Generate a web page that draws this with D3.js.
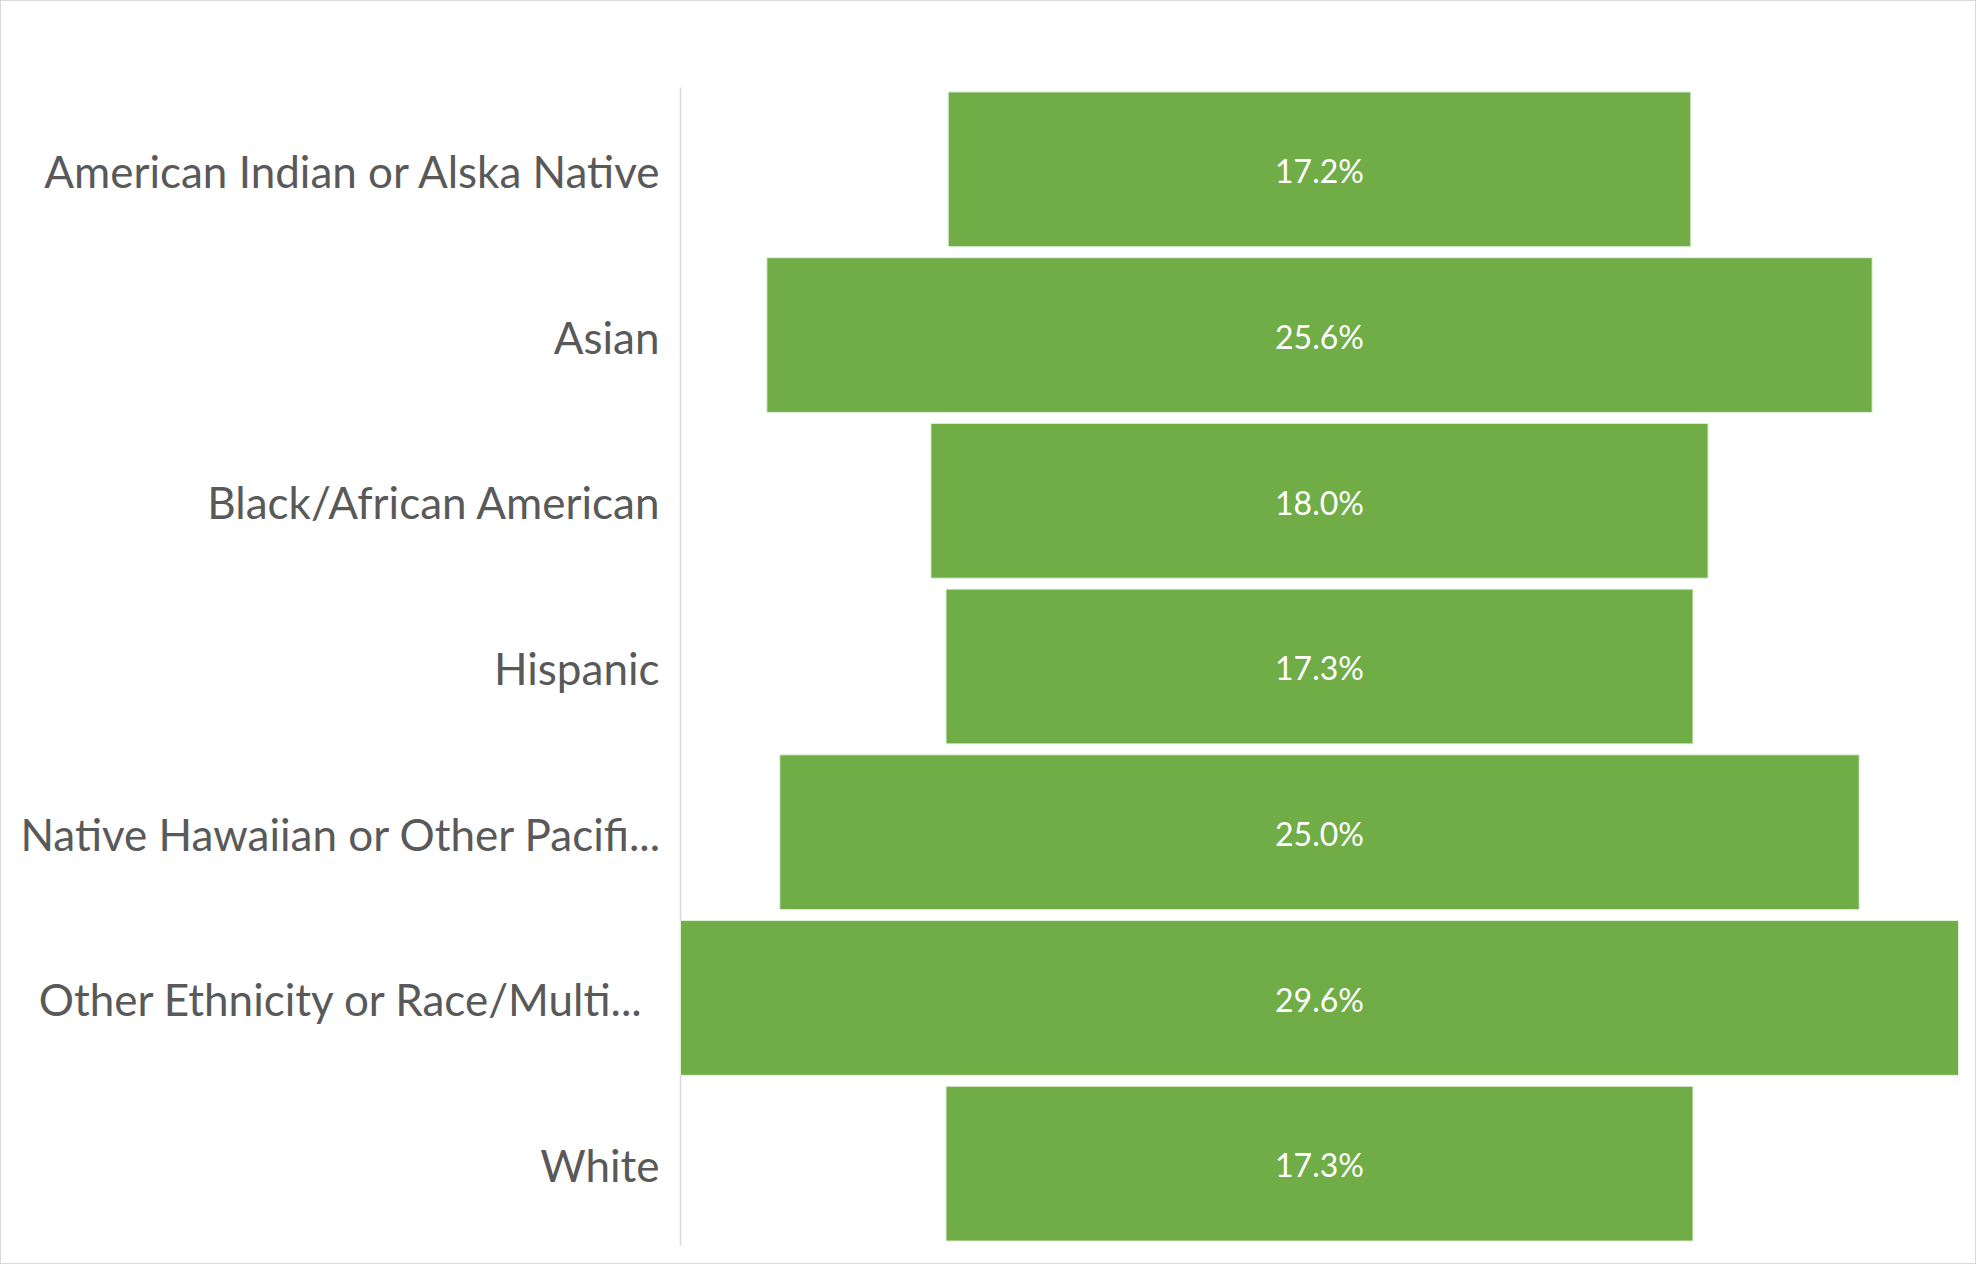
<!DOCTYPE html>
<html>
<head>
<meta charset="utf-8">
<script src="https://cdn.jsdelivr.net/npm/d3@7"></script>
<style>
  html, body { margin: 0; padding: 0; background: #fff; }
  svg { display: block; }
</style>
</head>
<body>
<div id="chart"></div>
<script>
// categories, top to bottom
const categories = [
  "American Indian or Alska Native",
  "Asian",
  "Black/African American",
  "Hispanic",
  "Native Hawaiian or Other Pacifi...",
  "Other Ethnicity or Race/Multi...",
  "White"
];
// percent values
const values = [17.2, 25.6, 18.0, 17.3, 25.0, 29.6, 17.3];

const width = 1976;
const height = 1264;
const plot = { left: 680.5, right: 1958.5, top: 86.5, bottom: 1246.5 };
const labelFont = "Lato, 'Open Sans', sans-serif";

const svg = d3.select("#chart")
  .append("svg")
  .attr("width", width)
  .attr("height", height);

// chart frame
svg.append("rect")
  .attr("x", 0.5).attr("y", 0.5)
  .attr("width", width - 1).attr("height", height - 1)
  .attr("fill", "#fff")
  .attr("stroke", "#d9d9d9");

const y = d3.scaleBand()
  .domain(categories)
  .range([plot.top, plot.bottom])
  .paddingInner(0.066)
  .paddingOuter(0.033);

const x = d3.scaleLinear()
  .domain([0, d3.max(values)])
  .range([0, plot.right - plot.left]);

const cx = (plot.left + plot.right) / 2;
const rows = categories.map((c, i) => ({ cat: c, val: values[i] }));

// axis line
svg.append("line")
  .attr("x1", plot.left).attr("x2", plot.left)
  .attr("y1", plot.top + 1).attr("y2", plot.bottom - 1)
  .attr("stroke", "#d9d9d9")
  .attr("stroke-width", 1.5);

// funnel bars, centred
svg.selectAll(".bar")
  .data(rows)
  .enter().append("rect")
  .attr("class", "bar")
  .attr("x", d => cx - x(d.val) / 2)
  .attr("y", d => y(d.cat))
  .attr("width", d => x(d.val))
  .attr("height", y.bandwidth())
  .attr("fill", "#70ad47")
  .attr("stroke", "#e2efda")
  .attr("stroke-width", 1);

// value labels
svg.selectAll(".val")
  .data(rows)
  .enter().append("text")
  .attr("class", "val")
  .attr("x", cx)
  .attr("y", d => y(d.cat) + y.bandwidth() / 2)
  .attr("dy", "0.43em")
  .attr("text-anchor", "middle")
  .attr("fill", "#fff")
  .style("font-family", labelFont)
  .style("font-size", "32px")
  .text(d => d.val.toFixed(1) + "%");

// category labels: truncated ones are centred like Excel does
const truncated = d => d.endsWith("...");
svg.selectAll(".cat")
  .data(categories)
  .enter().append("text")
  .attr("class", "cat")
  .attr("x", d => truncated(d) ? plot.left / 2 : plot.left - 21)
  .attr("y", d => y(d) + y.bandwidth() / 2)
  .attr("dy", "0.42em")
  .attr("text-anchor", d => truncated(d) ? "middle" : "end")
  .attr("fill", "#595959")
  .style("font-family", labelFont)
  .style("font-size", "44px")
  .text(d => d);
</script>
</body>
</html>
